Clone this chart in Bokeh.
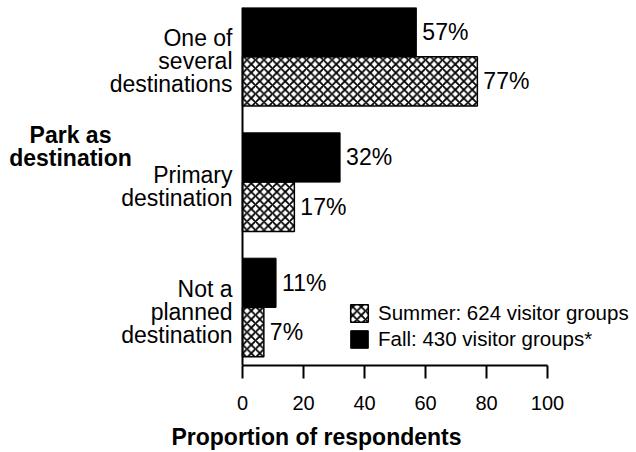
from bokeh.plotting import figure
from bokeh.models import FactorRange, Range1d, Label, Legend, LegendItem, ColumnDataSource
from bokeh.transform import dodge
from bokeh.core.properties import value
from bokeh.embed import file_html
from bokeh.resources import INLINE

# ---- data ----
categories = ["One of\nseveral\ndestinations", "Primary\ndestination", "Not a\nplanned\ndestination"]
summer = [77, 17, 7]
fall = [57, 32, 11]
x_ticks = [0, 20, 40, 60, 80, 100]
series_labels = ["Summer: 624 visitor groups", "Fall: 430 visitor groups*"]
y_title = "Park as\ndestination"
x_title = "Proportion of respondents"

FONT = "Liberation Sans"

source = ColumnDataSource(dict(
    cat=categories,
    summer=summer,
    fall=fall,
    summer_lbl=[f"{v}%" for v in summer],
    fall_lbl=[f"{v}%" for v in fall],
))

W, H = 632, 452
p = figure(
    width=W, height=H,
    y_range=FactorRange(factors=categories[::-1], range_padding=-0.072,
                        range_padding_units="absolute"),
    # frame spans the full width; value axis runs 0..100 at 3.05 px per unit from x=242
    x_range=Range1d(-242 / 3.05, (W - 242) / 3.05),
    output_backend="svg", toolbar_location=None,
    min_border_left=0, min_border_right=0, min_border_top=7, min_border_bottom=78,
)

bar_h = 0.393
fall_off = 0.035 + bar_h / 2
summer_off = 0.035 - bar_h / 2

r_summer = p.hbar(y=dodge("cat", summer_off, range=p.y_range), left=0, right="summer",
                  height=bar_h, source=source, fill_color="white", line_color="black",
                  line_width=1.5, hatch_pattern="diagonal_cross", hatch_color="black",
                  hatch_scale=8.5, hatch_weight=1.8)
r_fall = p.hbar(y=dodge("cat", fall_off, range=p.y_range), left=0, right="fall",
                height=bar_h, source=source, fill_color="black", line_color="black",
                line_width=1)

for col, off in (("fall", fall_off), ("summer", summer_off)):
    p.text(x=col, y=dodge("cat", off, range=p.y_range), text=col + "_lbl", source=source,
           x_offset=6, text_baseline="middle", text_align="left",
           text_font=value(FONT), text_font_size="23px", text_color="black")

# axes
p.xaxis.ticker = x_ticks
p.xaxis.bounds = (0, 100)
p.xaxis.axis_label = x_title
p.xaxis.axis_label_text_font = FONT
p.xaxis.axis_label_text_font_style = "bold"
p.xaxis.axis_label_text_font_size = "23px"
p.xaxis.axis_label_text_color = "black"
p.xaxis.axis_label_standoff = 11
p.xaxis.major_label_text_font = FONT
p.xaxis.major_label_text_font_size = "20px"
p.xaxis.major_label_text_color = "black"
p.xaxis.major_label_standoff = 17
p.xaxis.axis_line_width = 2
p.xaxis.axis_line_color = "black"
p.xaxis.major_tick_line_width = 2
p.xaxis.major_tick_line_color = "black"
p.xaxis.major_tick_out = 13
p.xaxis.major_tick_in = 0
p.xaxis.minor_tick_line_color = None

p.yaxis.fixed_location = 0
p.yaxis.major_tick_line_color = None
p.yaxis.minor_tick_line_color = None
p.yaxis.major_tick_out = 0
p.yaxis.major_tick_in = 0
p.yaxis.axis_line_width = 2
p.yaxis.axis_line_color = "black"
p.yaxis.major_label_standoff = 10
p.yaxis.major_label_text_font = FONT
p.yaxis.major_label_text_font_size = "23px"
p.yaxis.major_label_text_color = "black"
p.yaxis.major_label_text_line_height = 0.88

p.xgrid.visible = False
p.ygrid.visible = False
p.outline_line_color = None
p.background_fill_color = "white"
p.border_fill_color = "white"

p.add_layout(Label(x=70, y=219, x_units="screen", y_units="screen", text=y_title,
                   text_align="center", text_baseline="middle", text_font=FONT,
                   text_font_style="bold", text_font_size="23px", text_color="black",
                   text_line_height=0.9))

legend = Legend(items=[LegendItem(label=series_labels[0], renderers=[r_summer]),
                       LegendItem(label=series_labels[1], renderers=[r_fall])],
                location=(348, 14), padding=0, margin=0, spacing=2,
                glyph_width=22, glyph_height=22, label_standoff=8,
                label_text_font=FONT, label_text_font_size="20.5px", label_text_color="black",
                border_line_color=None, background_fill_alpha=0)
p.add_layout(legend)

open("out.html", "w").write(file_html(p, INLINE))
